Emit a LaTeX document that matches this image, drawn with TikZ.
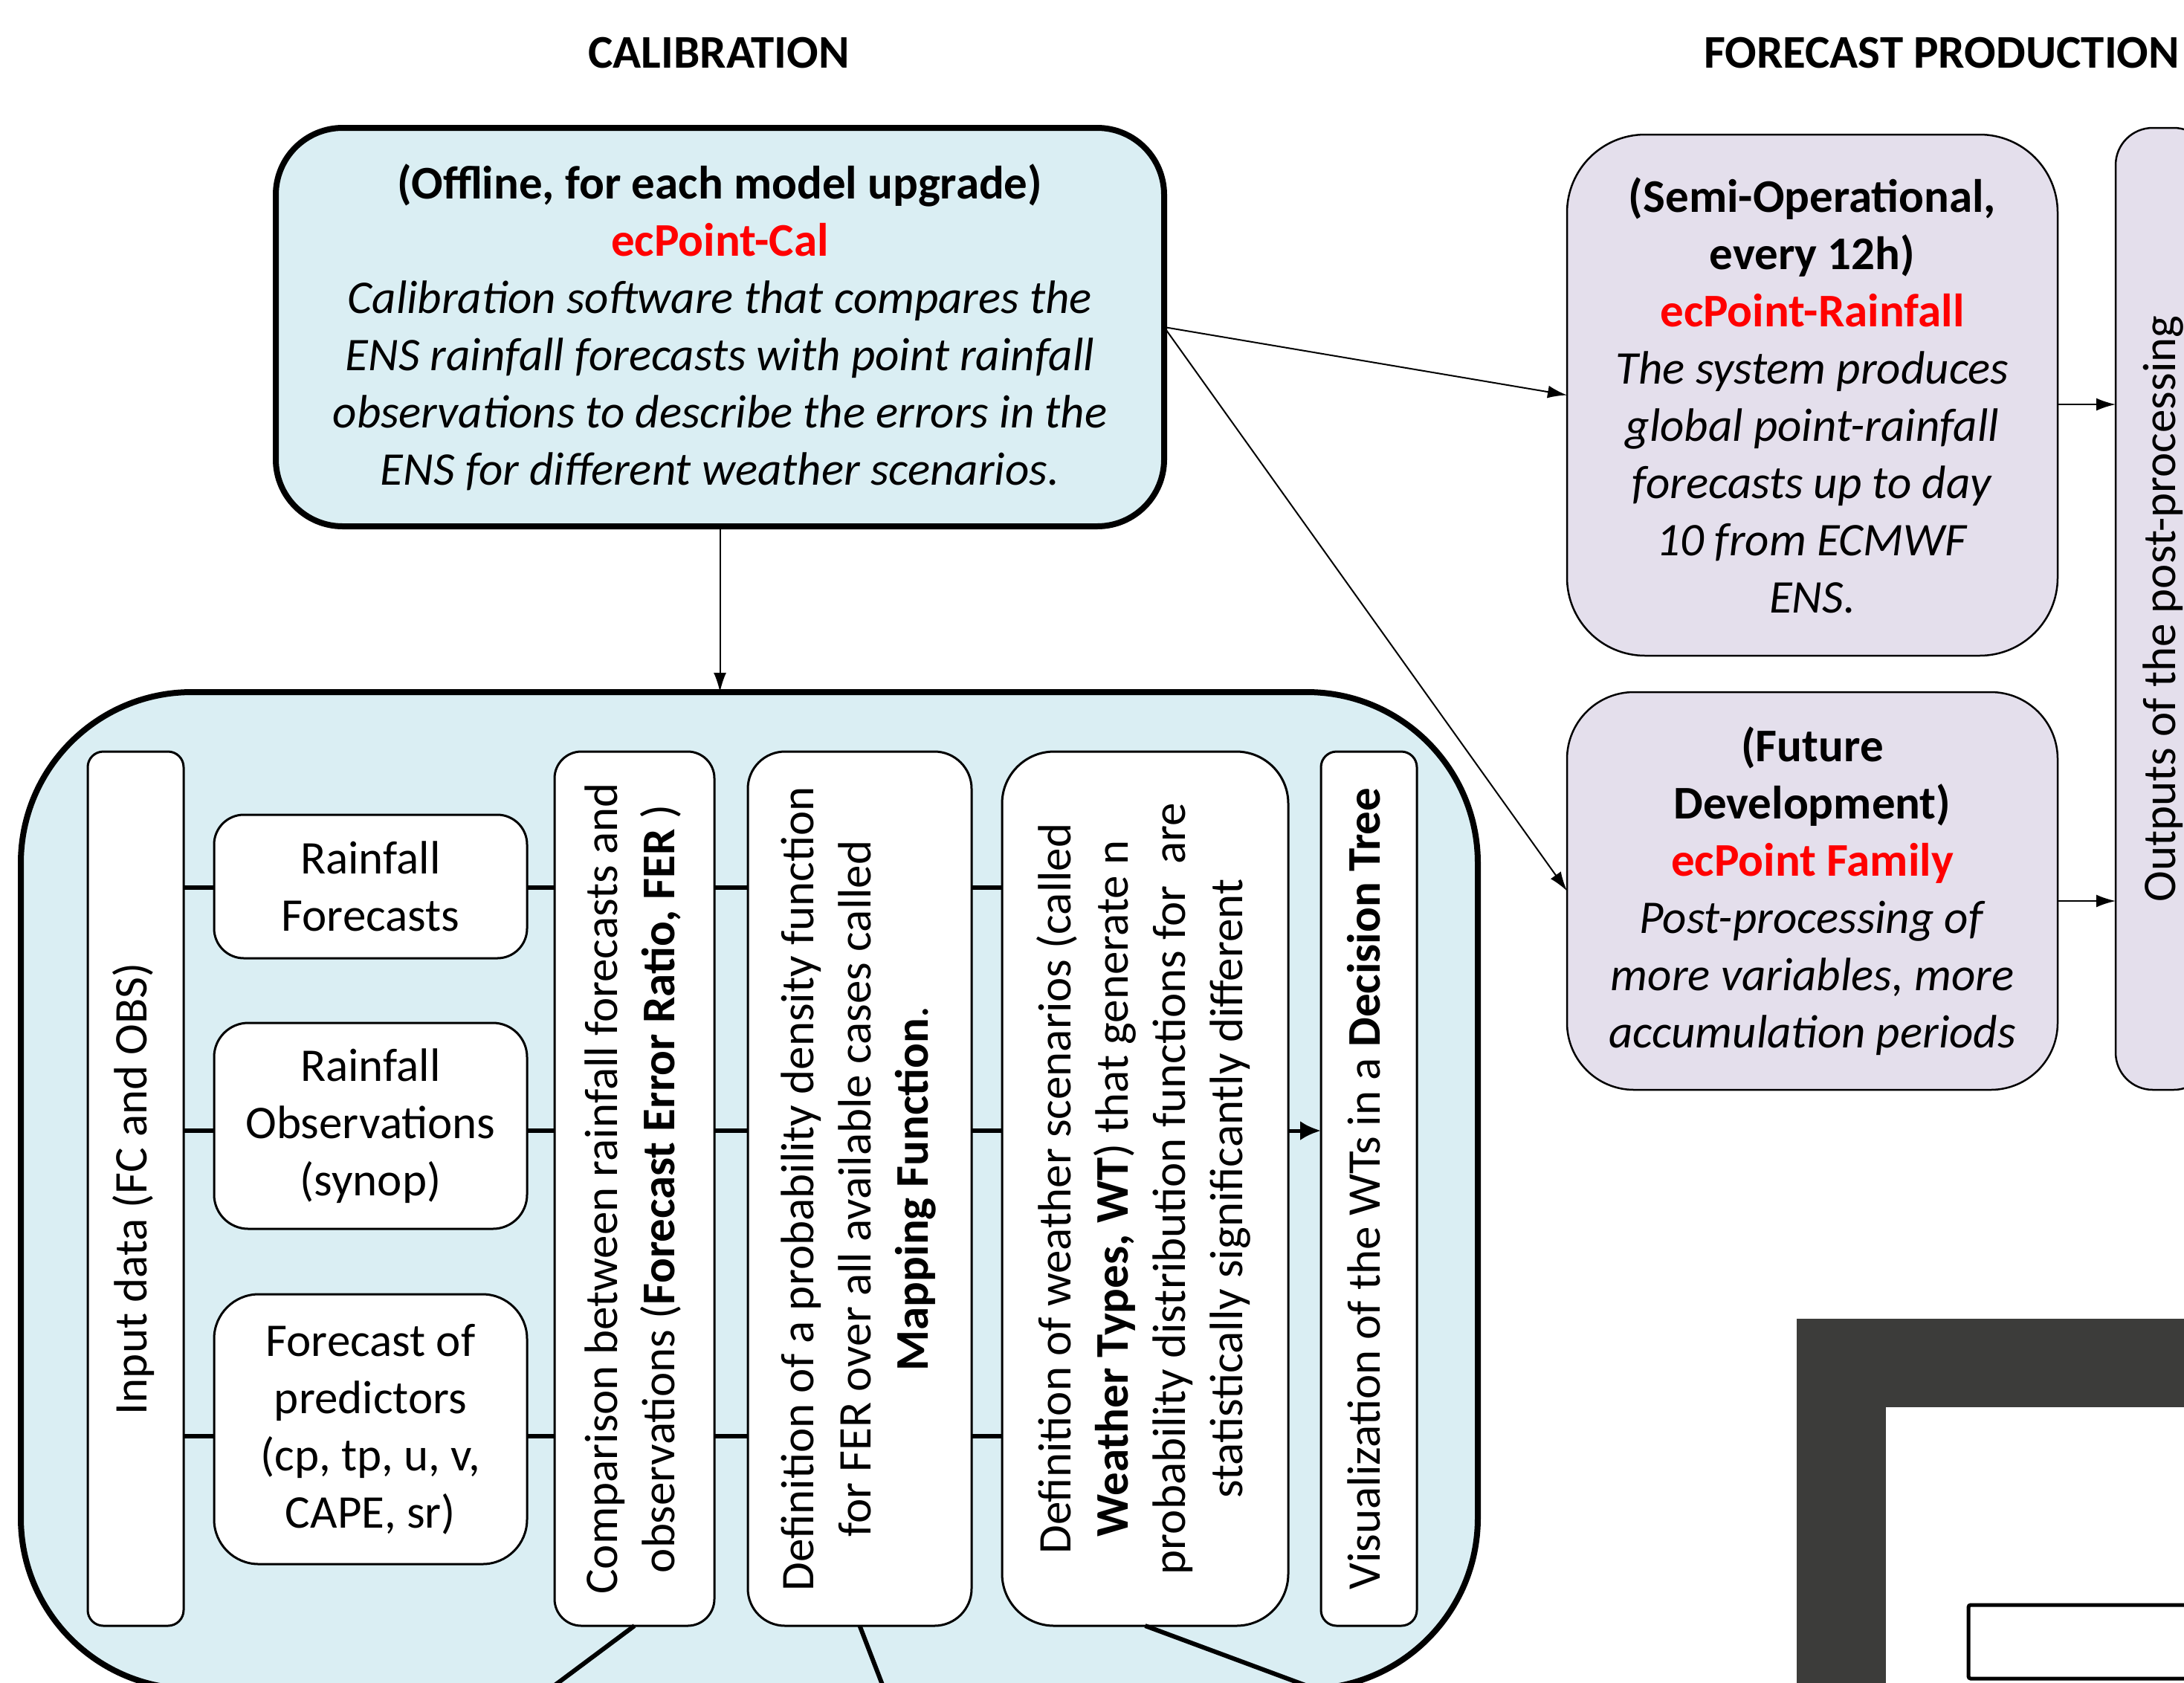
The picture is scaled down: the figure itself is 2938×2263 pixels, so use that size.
\documentclass[tikz,border=0pt]{standalone}
\usepackage{fontspec}
\setmainfont{Carlito}
\usepackage{graphicx}
\usetikzlibrary{arrows.meta}
\definecolor{calblue}{HTML}{DAEEF3}
\definecolor{lav}{HTML}{E4DFEC}
\definecolor{ecred}{HTML}{FF0000}
\definecolor{darkframe}{HTML}{3C3C3A}
\newcommand{\vtext}[1]{\rotatebox{90}{\begin{tabular}{@{}c@{}}#1\end{tabular}}}
\begin{document}
\begin{tikzpicture}[x=1pt,y=-1pt,
  every node/.style={font=\fontsize{63}{77}\selectfont, inner sep=0pt, outer sep=0pt},
  calbox/.style={draw, line width=8pt, fill=calblue},
  prodbox/.style={draw, line width=2.5pt, fill=lav},
  whitebox/.style={draw, line width=3pt, fill=white},
  thinarr/.style={line width=2pt, -{Latex[length=26pt,width=17pt]}},
  link/.style={line width=6pt},
  titletext/.style={font=\fontsize{63}{77}\selectfont\bfseries}
]
\path[use as bounding box] (0,0) rectangle (2938,2263);
\clip (0,0) rectangle (2938,2263);
\fill[white] (0,0) rectangle (2938,2263);

% titles
\node[titletext] (t1) at (967,71) {CALIBRATION};
\node[titletext, anchor=west] (t2) at (2292,71) {FORECAST PRODUCTION};

% calibration box
\node[calbox, rounded corners=90pt, minimum width=1195pt, minimum height=536pt, align=center] (cal) at (968.5,440)
 {\textbf{(Offline, for each model upgrade)}\\
  \textcolor{ecred}{\textbf{ecPoint-Cal}}\\
  \textit{Calibration software that compares the}\\
  \textit{ENS rainfall forecasts with point rainfall}\\
  \textit{observations to describe the errors in the}\\
  \textit{ENS for different weather scenarios.}};

% production boxes
\node[prodbox, rounded corners=105pt, minimum width=660pt, minimum height=701pt, align=center] (rain) at (2438,531.5)
 {\textbf{(Semi-Operational,}\\
  \textbf{every 12h)}\\
  \textcolor{ecred}{\textbf{ecPoint-Rainfall}}\\
  \textit{The system produces}\\
  \textit{global point-rainfall}\\
  \textit{forecasts up to day}\\
  \textit{10 from ECMWF}\\
  \textit{ENS.}};
\node[prodbox, rounded corners=90pt, minimum width=660pt, minimum height=535pt, align=center] (fut) at (2438,1198.5)
 {\textbf{(Future}\\
  \textbf{Development)}\\
  \textcolor{ecred}{\textbf{ecPoint Family}}\\
  \textit{Post-processing of}\\
  \textit{more variables, more}\\
  \textit{accumulation periods}};
\node[prodbox, rounded corners=50pt, minimum width=128pt, minimum height=1294pt] (out) at (2910,819)
 {\rotatebox{90}{Outputs of the post-processing}};

% big calibration process box
\node[calbox, rounded corners=230pt, minimum width=1960pt, minimum height=1341pt] (big) at (1008,1601.5) {};

% connectors top
\coordinate (ya) at (0,544);
\coordinate (yb) at (0,1212);
\draw[thinarr] (cal.south) -- (cal.south |- big.north);
\draw[thinarr] (cal.east) -- (rain.west);
\draw[thinarr] (cal.east) -- (fut.west);
\draw[thinarr] (rain.east |- ya) -- (out.west |- ya);
\draw[thinarr] (fut.east |- yb) -- (out.west |- yb);

% inner boxes
\node[whitebox, rounded corners=21pt, minimum width=129pt, minimum height=1176pt] (inp) at (182.5,1599)
 {\vtext{Input data (FC and OBS)}};
\node[whitebox, rounded corners=40pt, minimum width=421pt, minimum height=193pt, align=center] (rf) at (498.5,1192.5)
 {Rainfall\\Forecasts};
\node[whitebox, rounded corners=46pt, minimum width=421pt, minimum height=277pt, align=center] (ro) at (498.5,1514.5)
 {Rainfall\\Observations\\(synop)};
\node[whitebox, rounded corners=60pt, minimum width=421pt, minimum height=363pt, align=center] (fp) at (498.5,1922.5)
 {Forecast of\\predictors\\(cp, tp, u, v,\\CAPE, sr)};
\node[whitebox, rounded corners=36pt, minimum width=215pt, minimum height=1176pt] (cmp) at (853.5,1599)
 {\vtext{Comparison between rainfall forecasts and\\observations (\textbf{Forecast Error Ratio, FER} )}};
\node[whitebox, rounded corners=50pt, minimum width=301pt, minimum height=1176pt] (pdf) at (1156.5,1599)
 {\vtext{Definition of a probability density function\\for FER over all available cases called\\\textbf{Mapping Function}.}};
\node[whitebox, rounded corners=70pt, minimum width=385pt, minimum height=1176pt] (wt) at (1540.5,1599)
 {\vtext{Definition of weather scenarios (called\\\textbf{Weather Types, WT}) that generate n\\probability distribution functions for\ \ are\\statistically significantly different}};
\node[whitebox, rounded corners=21pt, minimum width=129pt, minimum height=1176pt] (vis) at (1841.5,1599)
 {\vtext{Visualization of the WTs in a \textbf{Decision Tree}}};

% inner connectors
\coordinate (r1) at (0,1194);
\coordinate (r2) at (0,1521);
\coordinate (r3) at (0,1932);
\draw[link] (inp.east |- r1) -- (rf.west |- r1);
\draw[link] (inp.east |- r2) -- (ro.west |- r2);
\draw[link] (inp.east |- r3) -- (fp.west |- r3);
\draw[link] (rf.east |- r1) -- (cmp.west |- r1);
\draw[link] (ro.east |- r2) -- (cmp.west |- r2);
\draw[link] (fp.east |- r3) -- (cmp.west |- r3);
\foreach \r in {r1,r2,r3}{
  \draw[link] (cmp.east |- \r) -- (pdf.west |- \r);
  \draw[link] (pdf.east |- \r) -- (wt.west |- \r);
}
\draw[line width=5pt, -{Latex[length=28pt,width=26pt]}] (wt.east |- r2) -- (vis.west |- r2);

% lines leaving the bottom
\coordinate (e1) at (702,2300);
\coordinate (e2) at (1200,2300);
\coordinate (e3) at (1845,2300);
\draw[link] (cmp.south) -- (e1);
\draw[link] (pdf.south) -- (e2);
\draw[link] (wt.south) -- (e3);

% picture frame bottom right
\fill[darkframe] (2417,1774) rectangle (3000,2320);
\fill[white] (2537,1893) rectangle (3000,2320);
\node[draw, line width=5pt, fill=white, rounded corners=3pt, minimum width=400pt, minimum height=99pt, anchor=north west] (imgbox) at (2648,2159) {};
\end{tikzpicture}
\end{document}
